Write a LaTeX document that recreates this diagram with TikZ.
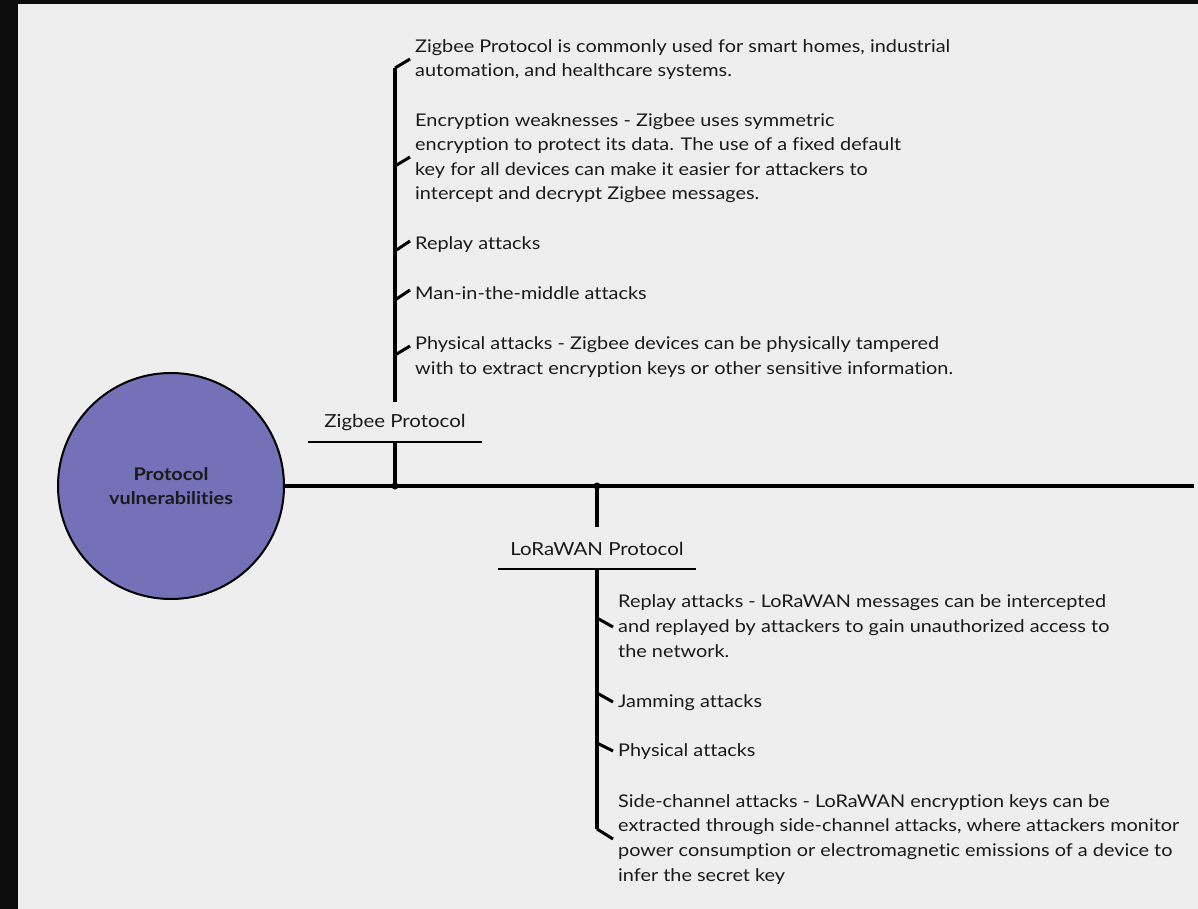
\documentclass[tikz,border=0pt]{standalone}
\usepackage{fontspec}
\setmainfont{Lato}[FakeStretch=1.135, Ligatures=NoCommon]
\definecolor{bg}{HTML}{EEEEEE}
\definecolor{frame}{HTML}{0C0C0C}
\definecolor{rootfill}{HTML}{7471B9}
\definecolor{ink}{HTML}{1A1A1A}
\tikzset{
  spine/.style={line width=4pt, black},
  tick/.style={line width=3pt, black},
  uline/.style={line width=2pt, black},
  item/.style={anchor=base west, inner sep=0pt, align=left, text=ink,
    font=\fontsize{17.5}{24.6}\selectfont},
  branchlabel/.style={inner sep=0pt, text=ink, font=\fontsize{18}{22}\selectfont},
  root/.style={circle, draw=black, line width=2pt, fill=rootfill,
    minimum size=226pt, inner sep=0pt, align=center, text=ink,
    font=\bfseries\fontsize{17.5}{24}\selectfont},
  dot/.style={circle, fill=black, inner sep=0pt, minimum size=7pt}
}
\begin{document}
\begin{tikzpicture}[x=1pt, y=-1pt]
\useasboundingbox (0,0) rectangle (1198,909);
\fill[bg] (0,0) rectangle (1198,909);
\fill[frame] (0,0) rectangle (18,909);
\fill[frame] (0,0) rectangle (1198,4);

% root
\node[root] (root) at (171,486) {Protocol\\vulnerabilities};
\coordinate (lineend) at (1194,486);
\draw[spine] (root.east) -- (lineend);

% Zigbee branch
\node[dot] (zj) at (395,486) {};
\node[branchlabel] (zlabel) at (395,423) {Zigbee Protocol};
\coordinate (zulL) at (308,442);
\coordinate (zulR) at (482,442);
\coordinate (zulM) at (395,442);
\draw[uline] (zulL) -- (zulR);
\draw[spine] (zj.center) -- (zulM);
\coordinate (zsbot) at (395,402);
\coordinate (zstop) at (395,68);
\draw[spine] (zsbot) -- (zstop);

\node[item] (z1) at (415,77) {Zigbee Protocol is commonly used for smart homes, industrial\\automation, and healthcare systems.};
\node[item] (z2) at (415,200) {Encryption weaknesses - Zigbee uses symmetric\\encryption to protect its data. The use of a fixed default\\key for all devices can make it easier for attackers to\\intercept and decrypt Zigbee messages.};
\node[item] (z3) at (415,250) {Replay attacks};
\node[item] (z4) at (415,299) {Man-in-the-middle attacks};
\node[item] (z5) at (415,374) {Physical attacks - Zigbee devices can be physically tampered\\with to extract encryption keys or other sensitive information.};

\coordinate (zt1a) at (395,68);  \coordinate (zt1b) at (410,59);
\coordinate (zt2a) at (395,166); \coordinate (zt2b) at (410,157);
\coordinate (zt3a) at (395,251); \coordinate (zt3b) at (410,241);
\coordinate (zt4a) at (395,300); \coordinate (zt4b) at (410,290);
\coordinate (zt5a) at (395,355); \coordinate (zt5b) at (410,346);
\foreach \i in {1,...,5} \draw[tick] (zt\i a) -- (zt\i b);

% LoRaWAN branch
\node[dot] (lj) at (597,486) {};
\node[branchlabel] (llabel) at (597,549) {LoRaWAN Protocol};
\coordinate (lulL) at (498,569);
\coordinate (lulR) at (696,569);
\coordinate (lulM) at (597,569);
\coordinate (lstub) at (597,527);
\draw[uline] (lulL) -- (lulR);
\draw[spine] (lj.center) -- (lstub);
\coordinate (lsbot) at (597,829);
\draw[spine] (lulM) -- (lsbot);

\node[item] (l1) at (618,657) {Replay attacks - LoRaWAN messages can be intercepted\\and replayed by attackers to gain unauthorized access to\\the network.};
\node[item] (l2) at (618,707) {Jamming attacks};
\node[item] (l3) at (618,756) {Physical attacks};
\node[item] (l4) at (618,881) {Side-channel attacks - LoRaWAN encryption keys can be\\extracted through side-channel attacks, where attackers monitor\\power consumption or electromagnetic emissions of a device to\\infer the secret key};

\coordinate (lt1a) at (597,618); \coordinate (lt1b) at (613,627);
\coordinate (lt2a) at (597,693); \coordinate (lt2b) at (613,702);
\coordinate (lt3a) at (597,743); \coordinate (lt3b) at (613,751);
\coordinate (lt4a) at (597,829); \coordinate (lt4b) at (613,839);
\foreach \i in {1,...,4} \draw[tick] (lt\i a) -- (lt\i b);
\end{tikzpicture}
\end{document}
